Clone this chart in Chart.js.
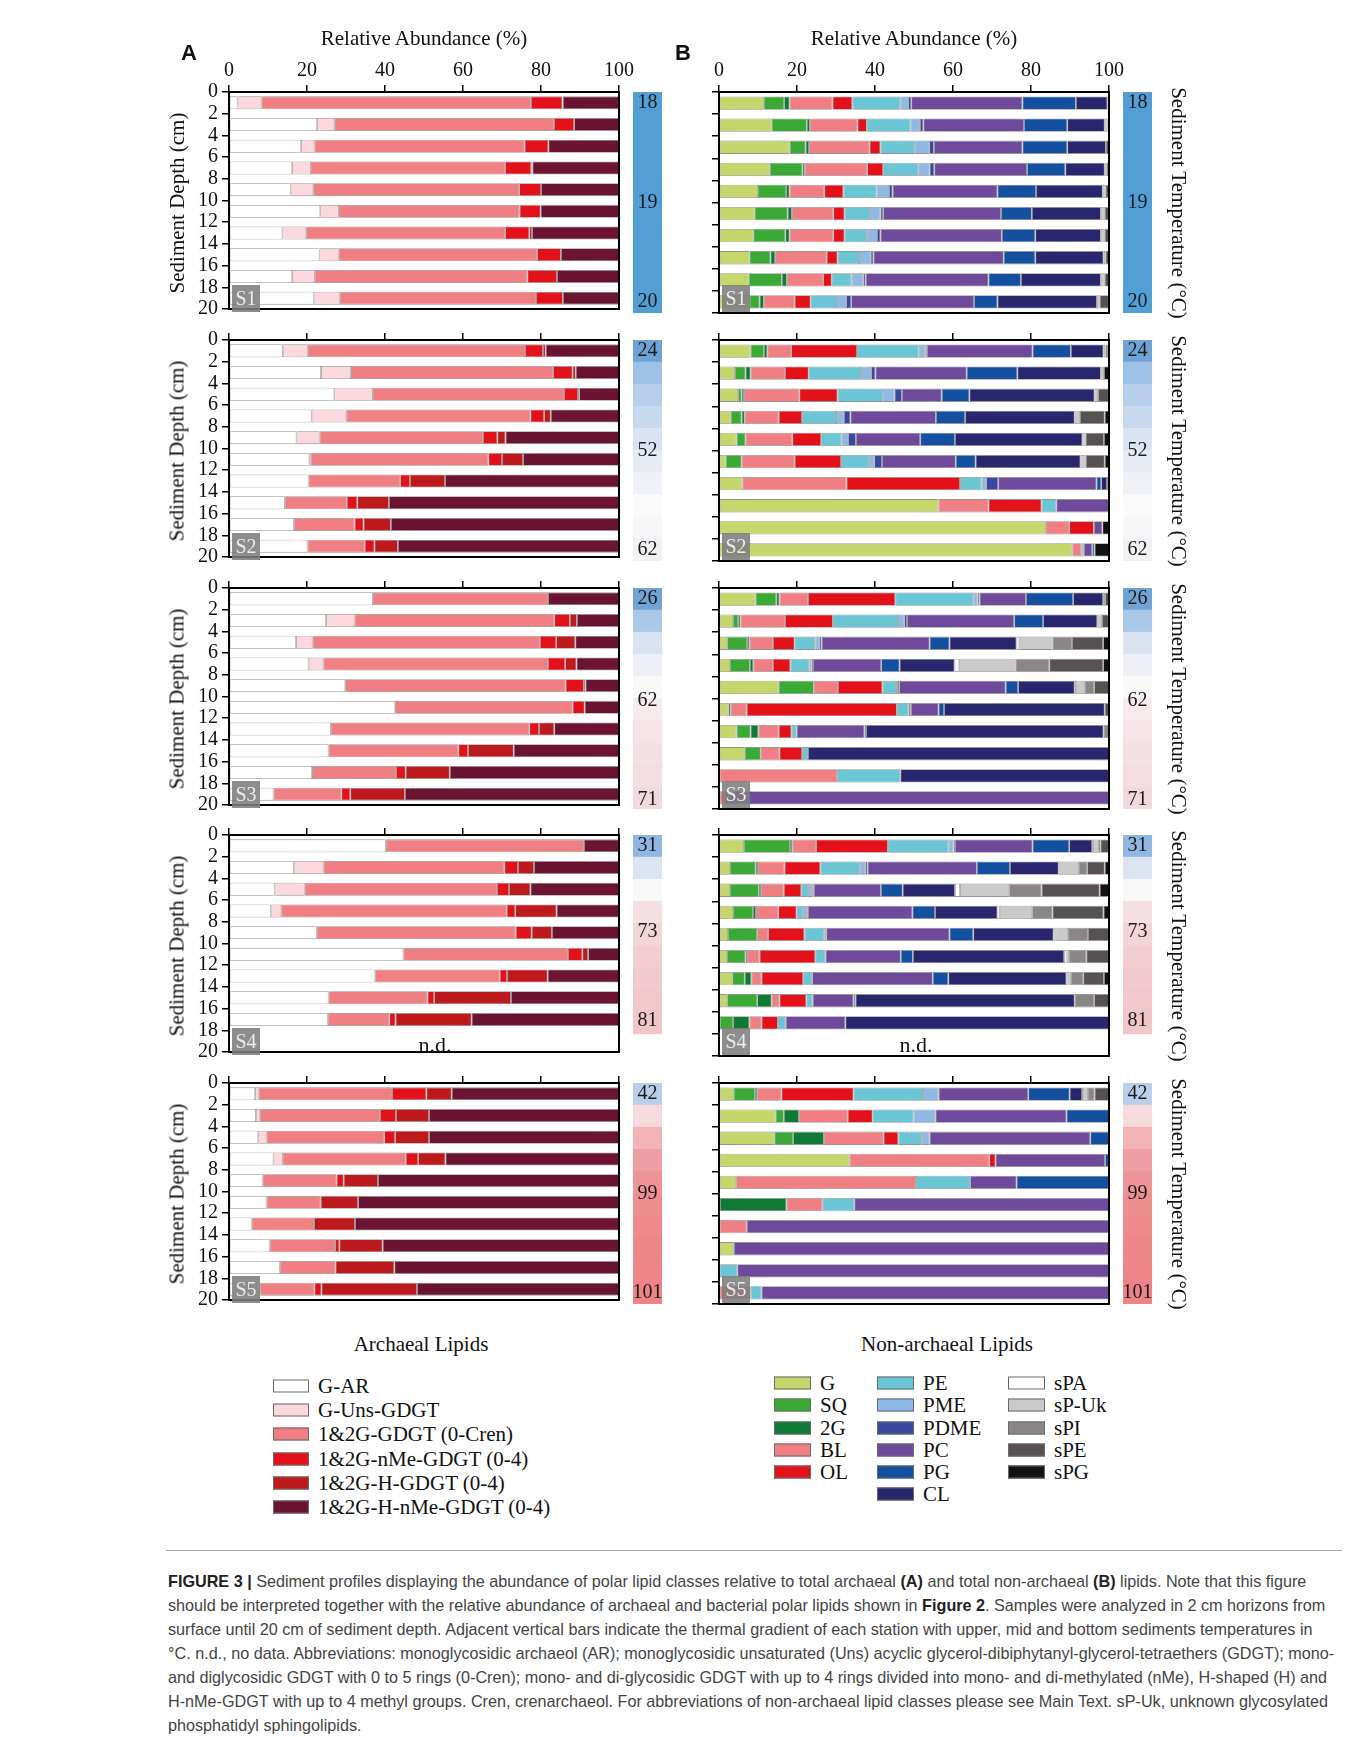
<!DOCTYPE html>
<html>
<head>
<meta charset="utf-8">
<script src="https://cdn.jsdelivr.net/npm/chart.js@4.4.1/dist/chart.umd.min.js"></script>
<style>
  html, body { margin: 0; padding: 0; background: #fff; }
  #page { position: relative; width: 1360px; height: 1737px; overflow: hidden;
          font-family: "Liberation Serif", "Times New Roman", serif; color: #111; }
  canvas { position: absolute; }
  .t { position: absolute; white-space: nowrap; font-size: 21px; line-height: 1;
       transform: translate(-50%, -50%); }
  .rotl { transform: translate(-50%, -50%) rotate(-90deg); }
  .rotr { transform: translate(-50%, -50%) rotate(90deg); }
  .letter { font-family: "Liberation Sans", Arial, sans-serif; font-weight: bold; font-size: 22px; }
  .station { position: absolute; width: 28px; height: 27px; background: rgba(125,125,125,0.88);
             color: #ececec; font-size: 20px; line-height: 27px; text-align: center; z-index: 5; }
  .leg { position: absolute; white-space: nowrap; font-size: 21px; line-height: 1; transform: translateY(-50%); }
  .box { position: absolute; height: 13px; border: 1px solid #6a6a6a; box-sizing: border-box; transform: translateY(-50%); }
  #rule { position: absolute; left: 166px; top: 1550px; width: 1176px; height: 1px; background: #a8a8a8; }
  #caption { position: absolute; left: 168px; top: 1569px; white-space: nowrap;
             font-family: "Liberation Sans", Arial, sans-serif; font-size: 16.2px; line-height: 24px; color: #444; }
  #caption b { color: #222; }
</style>
</head>
<body>
<div id="page"></div>
<script>
// categories
const archaealCats = ['G-AR', 'G-Uns-GDGT', '1&2G-GDGT (0-Cren)', '1&2G-nMe-GDGT (0-4)', '1&2G-H-GDGT (0-4)', '1&2G-H-nMe-GDGT (0-4)'];
const nonArchaealCats = ['G', 'SQ', '2G', 'BL', 'OL', 'PE', 'PME', 'PDME', 'PC', 'PG', 'CL', 'sPA', 'sP-Uk', 'sPI', 'sPE', 'sPG'];
const stations = ['S1', 'S2', 'S3', 'S4', 'S5'];

// bar centres (cm), one per 2 cm horizon
const depthMid = [1, 3, 5, 7, 9, 11, 13, 15, 17, 19];
const depthEdges = [0, 2, 4, 6, 8, 10, 12, 14, 16, 18, 20];
const xTicks = [0, 20, 40, 60, 80, 100];

// archaeal lipids (%), rows = horizons, cols = archaealCats
const archS1 = [
  [2.2, 6.1, 69.1, 8.1, 0.1, 14.4],
  [22.6, 4.4, 56.3, 5.2, 0, 11.5],
  [18.5, 3.4, 53.9, 6.1, 0, 18.1],
  [16.2, 4.8, 49.8, 6.7, 0.3, 22.2],
  [15.8, 5.8, 52.8, 5.6, 0, 20],
  [23.4, 4.8, 46.3, 5.4, 0, 20.1],
  [13.7, 6.1, 51, 6.2, 0.7, 22.3],
  [23.2, 4.9, 50.9, 6.1, 0, 14.9],
  [16.2, 5.8, 54.5, 7.6, 0, 15.9],
  [21.7, 6.8, 50.2, 6.9, 0, 14.4]
];
const archS2 = [
  [13.8, 6.4, 55.7, 4.6, 0.7, 18.8],
  [23.6, 7.7, 51.8, 5, 0.8, 11.1],
  [27, 9.9, 49, 3.6, 0.3, 10.2],
  [21.2, 9, 47.1, 3.5, 1.7, 17.5],
  [17.3, 5.9, 41.9, 3.7, 2.1, 29.1],
  [20.6, 0.3, 45.6, 3.5, 5.4, 24.6],
  [20.4, 0, 23.5, 2.5, 9, 44.6],
  [14.3, 0, 15.9, 2.7, 8.1, 59],
  [16.6, 0, 15.6, 2.3, 7, 58.5],
  [20.1, 0, 14.7, 2.5, 6, 56.7]
];
const archS3 = [
  [36.9, 0, 44.9, 0, 0, 18.2],
  [24.9, 7.3, 51.2, 4, 1.8, 10.8],
  [17.2, 4.2, 58.3, 4.2, 4.9, 11.2],
  [20.4, 3.8, 57.6, 4.4, 2.9, 10.9],
  [29.8, 0, 56.5, 4.7, 0.4, 8.6],
  [42.6, 0, 45.5, 3.1, 0, 8.8],
  [26.1, 0, 50.9, 2.5, 3.9, 16.6],
  [25.5, 0, 33.3, 2.5, 11.7, 27],
  [21.3, 0, 21.5, 2.5, 11.3, 43.4],
  [11.4, 0, 17.4, 2.3, 14, 54.9]
];
const archS4 = [
  [40.2, 0, 50.8, 0, 0, 9],
  [16.6, 7.6, 46.4, 3.5, 4.1, 21.8],
  [11.7, 7.7, 49.3, 3.1, 5.5, 22.7],
  [10.7, 2.7, 57.8, 2.2, 10.6, 16],
  [22.5, 0, 51, 4.1, 5.2, 17.2],
  [44.7, 0, 42.2, 3.7, 1.5, 7.9],
  [37.5, 0, 31.9, 1.9, 10.4, 18.3],
  [25.5, 0, 25.4, 1.7, 19.7, 27.7],
  [25.3, 0, 15.8, 1.6, 19.5, 37.8]
];
const archS5 = [
  [6.7, 0.9, 34.2, 8.8, 6.5, 42.9],
  [6.9, 1.1, 30.7, 4.1, 8.5, 48.7],
  [7.5, 2.1, 30.2, 2.8, 8.7, 48.7],
  [11.4, 2.4, 31.5, 3.2, 7, 44.5],
  [8.6, 0, 19, 1.8, 8.8, 61.8],
  [9.6, 0, 13.9, 0, 9.6, 66.9],
  [5.8, 0, 16, 0, 10.5, 67.7],
  [10.4, 0, 16.8, 1.1, 11.1, 60.6],
  [13, 0, 14.3, 0, 15.1, 57.6],
  [8, 0, 13.9, 1.8, 24.5, 51.8]
];

// non-archaeal lipids (%), cols = nonArchaealCats
const nonArchS1 = [
  [11.5, 5.2, 1.4, 11, 5.1, 12.3, 2, 0.8, 28.5, 13.7, 8.1, 0, 0.4, 0, 0, 0],
  [13.5, 9, 0.8, 12.2, 2.4, 11.2, 2.4, 0.9, 25.8, 11.1, 9.6, 0, 0.7, 0, 0.4, 0],
  [18.1, 4.1, 0.9, 15.5, 2.8, 8.8, 3.7, 1.2, 22.7, 11.5, 9.9, 0, 0, 0, 0.8, 0],
  [13, 8.4, 0.6, 16, 4.1, 9, 2.9, 1.2, 23.8, 9.8, 10.1, 0, 0.5, 0, 0.6, 0],
  [10, 7.2, 0.9, 8.9, 4.9, 8.5, 3.2, 0.9, 26.9, 9.9, 17.1, 0, 0.7, 0, 0.9, 0],
  [9.1, 8.5, 1.1, 10.6, 2.9, 6.5, 2.7, 0.7, 30.2, 7.9, 17.7, 0, 1, 0, 1.1, 0],
  [8.8, 8.2, 1.1, 11.2, 2.9, 5.7, 2.6, 0.9, 31.1, 8.6, 16.8, 0, 1, 0, 1.1, 0],
  [7.8, 5.4, 1.2, 13.2, 2.8, 5.5, 3, 0.7, 33.4, 8.1, 17.5, 0, 0.5, 0, 0.9, 0],
  [7.6, 8.5, 1.3, 9.3, 2.2, 5.1, 3, 0.6, 31.5, 8.3, 20.5, 0, 1, 0, 1.1, 0],
  [7.8, 2.6, 1.1, 7.9, 4.1, 6.5, 2.6, 1.3, 31.5, 6, 25.5, 0, 0.7, 0, 2.4, 0]
];
const nonArchS2 = [
  [8.1, 3.4, 0.9, 6.1, 16.9, 15.8, 1.7, 0.4, 27.1, 9.8, 8.4, 0, 0.5, 0.4, 0.5, 0],
  [4.1, 2.7, 1.3, 8.8, 6.1, 13.4, 2.6, 1.1, 23.4, 13, 21.4, 0, 0.8, 0, 0, 1.3],
  [4.9, 0.9, 0.6, 14.2, 9.8, 11.6, 3, 1.9, 10.2, 7.1, 32.1, 0, 0.9, 0, 2.8, 0],
  [3, 2.8, 0.8, 8.7, 6, 8.7, 2, 1.7, 21.9, 7.5, 28.1, 0, 1.3, 0, 6.4, 1.1],
  [4.5, 2.3, 0, 12, 7.4, 5.2, 1.7, 2, 16.5, 8.9, 32.7, 0, 0.8, 0, 4.7, 1.3],
  [1.7, 4.1, 0, 13.6, 11.9, 7.2, 1.3, 2, 18.9, 5.1, 26.9, 0, 1.3, 0, 4.9, 1.1],
  [6, 0, 0, 26.7, 29.1, 5.5, 1.2, 3.1, 25.2, 1.2, 1.5, 0, 0, 0, 0, 0.5],
  [56.3, 0, 0, 12.8, 13.6, 3.8, 0, 0, 13.5, 0, 0, 0, 0, 0, 0, 0],
  [83.8, 0, 0, 6, 6.3, 0, 0, 0, 2.2, 0, 0, 0, 0, 0, 0, 1.7],
  [90.6, 0, 0, 2.3, 0, 0.6, 0, 0, 2.2, 0.6, 0, 0, 0, 0, 0, 3.7]
];
const nonArchS3 = [
  [9.4, 5.3, 0.8, 7.3, 22.4, 20, 1.1, 0.5, 11.9, 12.1, 7.7, 0, 0, 0.5, 1, 0],
  [3.6, 1.3, 0.6, 11.4, 12.3, 16.7, 1.6, 0.7, 27.5, 7.4, 13.9, 0, 1.2, 0, 1.8, 0],
  [2.1, 5.1, 0.6, 6, 5.6, 5.3, 1, 0.6, 27.7, 5.1, 17.2, 0.7, 8.5, 5, 8, 1.5],
  [2.8, 5.1, 0.9, 5, 4.5, 4.9, 0.5, 0.4, 17.5, 4.7, 14.1, 1.2, 14.4, 8.7, 13.8, 1.5],
  [15.3, 9, 0, 6.2, 11.4, 3.5, 0.5, 0.3, 27.3, 3.2, 14.5, 0.3, 2.3, 2.4, 3.8, 0],
  [2.4, 0, 0.6, 4.1, 38.5, 3, 0.4, 0.2, 7.1, 1.4, 41.2, 0, 0, 0, 1.1, 0],
  [4.5, 3.6, 2, 5.2, 3.3, 1.3, 0, 0, 17.4, 0.4, 60.9, 0, 0, 1.4, 0, 0],
  [6.6, 4.1, 0, 4.8, 5.8, 1.5, 0, 0, 0, 0, 77.2, 0, 0, 0, 0, 0],
  [0, 0, 0, 30.3, 0, 16.2, 0, 0, 0, 0, 53.5, 0, 0, 0, 0, 0],
  [0, 0, 0, 1.5, 1, 0, 0, 0, 97.5, 0, 0, 0, 0, 0, 0, 0]
];
const nonArchS4 = [
  [6.4, 11.8, 0.6, 6.1, 18.4, 15.5, 1.3, 0.4, 19.9, 9.4, 5.9, 0.2, 1.5, 0.4, 2.2, 0],
  [2.8, 6.6, 0.6, 6.8, 9.2, 10.1, 1.4, 0.6, 28, 8.5, 12.5, 0, 5.2, 2.1, 4.5, 1.1],
  [2.8, 7.4, 0.6, 5.8, 4.5, 1.7, 1.1, 0.4, 17.2, 5.6, 13.4, 1.3, 12.6, 8.3, 14.9, 2.4],
  [3.6, 5.1, 0.8, 5.7, 4.7, 1.6, 1.1, 0.2, 26.8, 5.8, 16, 0.6, 8.3, 5.2, 13.1, 1.4],
  [2.3, 7.5, 0, 2.8, 9.3, 5.1, 0.5, 0, 31.6, 6.1, 20.6, 0.5, 3.2, 5.1, 5.4, 0],
  [2, 4.8, 0.4, 3.2, 14.3, 2.6, 0, 0, 19.3, 3.1, 38.8, 0.6, 0.6, 4.5, 5.8, 0],
  [3.4, 3.2, 1.7, 2.6, 10.7, 2.3, 0, 0, 30.9, 4, 30.3, 0, 1.1, 3.2, 5.3, 1.3],
  [2.1, 7.7, 3.7, 2, 6.9, 1.6, 0, 0, 10.5, 0.5, 56.2, 0, 0, 5, 3.8, 0],
  [0, 3.6, 4.2, 3.1, 4.2, 2, 0, 0, 15.3, 0, 67.6, 0, 0, 0, 0, 0]
];
const nonArchS5 = [
  [3.8, 5.4, 0.6, 6.2, 18.5, 17.8, 4, 0, 23, 10.6, 3.2, 0.3, 1.2, 1.7, 3.7, 0],
  [14.5, 2.1, 3.9, 12.5, 6.4, 10.5, 5.6, 0, 33.6, 10.9, 0, 0, 0, 0, 0, 0],
  [14.2, 4.8, 7.9, 15.3, 3.8, 6, 2, 0, 41.2, 4.8, 0, 0, 0, 0, 0, 0],
  [33.5, 0, 0, 35.8, 1.6, 0, 0, 0, 28.1, 1, 0, 0, 0, 0, 0, 0],
  [4.4, 0, 0, 46.1, 0, 13.9, 0, 0, 11.9, 23.7, 0, 0, 0, 0, 0, 0],
  [0, 0, 17.3, 9.2, 0, 8.2, 0, 0, 65.3, 0, 0, 0, 0, 0, 0, 0],
  [0, 0, 0, 7.1, 0, 0, 0, 0, 92.9, 0, 0, 0, 0, 0, 0, 0],
  [3.8, 0, 0, 0, 0, 0, 0, 0, 96.2, 0, 0, 0, 0, 0, 0, 0],
  [0, 0, 0, 0, 0, 4.7, 0, 0, 95.3, 0, 0, 0, 0, 0, 0, 0],
  [0, 0, 0, 8.1, 0, 2.8, 0, 0, 89.1, 0, 0, 0, 0, 0, 0, 0]
];

// sediment temperatures (°C) shown on the thermal bars, and where (cm)
const tempTop = ['18', '24', '26', '31', '42'];
const tempMid = ['19', '52', '62', '73', '99'];
const tempBottom = ['20', '62', '71', '81', '101'];
const tempLabelDepth = [[1, 10, 19], [1, 10, 19], [1, 10.2, 19.2], [1, 8.8, 16.8], [1, 10, 19]];

// colours
const archColors = ['#ffffff', '#fad8dd', '#ef7f83', '#e3111a', '#bd1a1d', '#6a1431'];
const nonArchColors = ['#c5d66b', '#3aa935', '#0e7a36', '#ef7f83', '#e3111a', '#6ac5d5', '#8fb8e3', '#3b479e',
  '#6e4a9a', '#144fa0', '#2a266d', '#ffffff', '#ccc9c9', '#8a8686', '#565252', '#121212'];
const tempColors = [
  ['#539ed5', '#539ed5', '#539ed5', '#539ed5', '#539ed5', '#539ed5', '#539ed5', '#539ed5', '#539ed5', '#539ed5'],
  ['#6ea3d5', '#9ec1e7', '#b7cfec', '#c8d9ef', '#dae3f1', '#e6ebf4', '#eff1f6', '#fafafb', '#f6f6f8', '#f1f1f4'],
  ['#70a4d4', '#a9c8ea', '#dbe3f0', '#eef0f6', '#f9f9f9', '#f6eaec', '#f4e4e7', '#f3e1e4', '#f2dee1', '#f1dadd'],
  ['#8fb7e1', '#dbe4f0', '#f8f8f8', '#f4e1e4', '#f3d4d8', '#f2ced3', '#f1c9ce', '#f1c7cc', '#f1c6cb'],
  ['#b9d0ea', '#f6dade', '#f2b4b7', '#ef9fa3', '#ee9396', '#ee8e91', '#ee8a8d', '#ee878a', '#ee8588', '#ee8386']
];

const archData = [archS1, archS2, archS3, archS4, archS5];
const nonArchData = [nonArchS1, nonArchS2, nonArchS3, nonArchS4, nonArchS5];

// ---- layout ----
const page = document.getElementById('page');
const panelTop = [92, 340, 588, 835, 1083];
const PLOT_H = 221, PLOT_W = 390;
const A_LEFT = 229, B_LEFT = 719;
const TA_LEFT = 633, TB_LEFT = 1123, T_W = 29;
const Y_W = 65, X_H = 45, PAD_R = 22, PAD_B = 12;

Chart.defaults.font.family = '"Liberation Serif", "Times New Roman", serif';
Chart.defaults.color = '#111';

function addCanvas(left, top, w, h) {
  const c = document.createElement('canvas');
  c.width = w; c.height = h;
  c.style.left = left + 'px'; c.style.top = top + 'px';
  c.style.width = w + 'px'; c.style.height = h + 'px';
  page.appendChild(c);
  return c;
}
function addText(txt, cls, x, y, extra) {
  const d = document.createElement('div');
  d.className = cls;
  d.textContent = txt;
  d.style.left = x + 'px'; d.style.top = y + 'px';
  if (extra) Object.assign(d.style, extra);
  page.appendChild(d);
  return d;
}

const frame = {
  id: 'frame',
  afterDraw(chart) {
    const { ctx, chartArea: a } = chart;
    ctx.save();
    ctx.strokeStyle = '#000';
    ctx.lineWidth = 2;
    ctx.strokeRect(a.left, a.top, a.right - a.left, a.bottom - a.top);
    ctx.restore();
  }
};

function panelChart(left, top, cats, colors, rows, showX, showY) {
  const cv = addCanvas(left - Y_W, top - X_H, Y_W + PLOT_W + PAD_R, X_H + PLOT_H + PAD_B);
  const datasets = cats.map((name, k) => ({
    label: name,
    data: rows.map((r, i) => ({ x: r[k], y: depthMid[i] })),
    backgroundColor: colors[k],
    borderColor: 'rgba(60,60,60,0.55)',
    borderWidth: 0.8,
    borderSkipped: false,
    categoryPercentage: 1,
    barPercentage: 0.6
  }));
  const axisGrid = { display: true, drawOnChartArea: false, drawTicks: true, tickLength: 7,
    color: '#000', lineWidth: 1.5, offset: false };
  return new Chart(cv, {
    type: 'bar',
    data: { datasets },
    options: {
      indexAxis: 'y',
      responsive: false,
      maintainAspectRatio: false,
      animation: false,
      devicePixelRatio: 1,
      layout: { autoPadding: false, padding: { left: 0, top: 0, right: PAD_R, bottom: PAD_B } },
      plugins: { legend: { display: false }, tooltip: { enabled: false } },
      scales: {
        x: {
          type: 'linear', position: 'top', min: 0, max: 100, stacked: true,
          afterBuildTicks: s => { s.ticks = xTicks.map(v => ({ value: v })); },
          ticks: { display: showX, autoSkip: false, maxRotation: 0, font: { size: 20 }, color: '#111', padding: 2 },
          grid: axisGrid,
          border: { display: true, color: '#000', width: 2 },
          afterFit: s => { s.height = X_H; }
        },
        y: {
          type: 'linear', min: 0, max: 20, reverse: true, stacked: true, offset: false,
          afterBuildTicks: s => { s.ticks = depthEdges.map(v => ({ value: v })); },
          ticks: { display: showY, autoSkip: false, font: { size: 20 }, color: '#111', padding: 4 },
          grid: axisGrid,
          border: { display: true, color: '#000', width: 2 },
          afterFit: s => { s.width = Y_W; }
        }
      }
    },
    plugins: [frame]
  });
}

const tempText = {
  id: 'tempText',
  afterDatasetsDraw(chart, args, opts) {
    const { ctx, chartArea: a } = chart;
    const ys = chart.scales.y;
    ctx.save();
    ctx.fillStyle = '#1a1a1a';
    ctx.font = '20px "Liberation Serif", serif';
    ctx.textAlign = 'center';
    ctx.textBaseline = 'middle';
    opts.labels.forEach((t, j) => ctx.fillText(t, (a.left + a.right) / 2, ys.getPixelForValue(opts.depths[j])));
    ctx.restore();
  }
};

function tempChart(left, top, si) {
  const cv = addCanvas(left, top, T_W, PLOT_H);
  const cols = tempColors[si];
  return new Chart(cv, {
    type: 'bar',
    data: {
      labels: ['T'],
      datasets: [{
        data: cols.map((c, i) => ({ x: 'T', y: [depthEdges[i], depthEdges[i + 1]] })),
        backgroundColor: cols,
        borderWidth: 0,
        barThickness: T_W
      }]
    },
    options: {
      responsive: false, maintainAspectRatio: false, animation: false, devicePixelRatio: 1,
      layout: { autoPadding: false, padding: 0 },
      plugins: {
        legend: { display: false }, tooltip: { enabled: false },
        tempText: { labels: [tempTop[si], tempMid[si], tempBottom[si]], depths: tempLabelDepth[si] }
      },
      scales: {
        x: { display: false },
        y: { display: false, min: 0, max: 20, reverse: true }
      }
    },
    plugins: [tempText]
  });
}

stations.forEach((st, i) => {
  const top = panelTop[i];
  panelChart(A_LEFT, top, archaealCats, archColors, archData[i], i === 0, true);
  panelChart(B_LEFT, top, nonArchaealCats, nonArchColors, nonArchData[i], i === 0, false);
  tempChart(TA_LEFT, top, i);
  tempChart(TB_LEFT, top, i);

  const mid = top + PLOT_H / 2;
  addText('Sediment Depth (cm)', 't rotl', 177, mid);
  addText('Sediment Temperature (°C)', 't rotr', 1178, mid);

  [A_LEFT, B_LEFT].forEach(l => {
    const s = document.createElement('div');
    s.className = 'station';
    s.textContent = st;
    s.style.left = (l + 3) + 'px';
    s.style.top = (top + PLOT_H - 28) + 'px';
    page.appendChild(s);
  });
  if (archData[i].length < depthMid.length) {
    addText('n.d.', 't', A_LEFT + 206, top + PLOT_H * 19 / 20, { fontSize: '22px' });
    addText('n.d.', 't', B_LEFT + 197, top + PLOT_H * 19 / 20, { fontSize: '22px' });
  }
});

addText('Relative Abundance (%)', 't', A_LEFT + PLOT_W / 2, 38);
addText('Relative Abundance (%)', 't', B_LEFT + PLOT_W / 2, 38);
addText('A', 't letter', 189, 53);
addText('B', 't letter', 683, 53);

// legends
addText('Archaeal Lipids', 't', 421, 1344);
addText('Non-archaeal Lipids', 't', 947, 1344);

function legendItem(x, y, w, color, name) {
  const b = document.createElement('div');
  b.className = 'box';
  b.style.left = x + 'px'; b.style.top = y + 'px';
  b.style.width = w + 'px'; b.style.background = color;
  page.appendChild(b);
  const t = document.createElement('div');
  t.className = 'leg';
  t.textContent = name;
  t.style.left = (x + w + 9) + 'px'; t.style.top = y + 'px';
  page.appendChild(t);
}
const legARows = [1386, 1410, 1434, 1459, 1483, 1507];
archaealCats.forEach((c, k) => legendItem(273, legARows[k], 36, archColors[k], c));

const legBRows = [1383, 1405, 1428, 1450, 1472, 1494];
const legBCols = [774, 877, 1008];
const legBLayout = [[0, 1, 2, 3, 4], [5, 6, 7, 8, 9, 10], [11, 12, 13, 14, 15]];
legBLayout.forEach((col, ci) => col.forEach((k, r) => legendItem(legBCols[ci], legBRows[r], 37, nonArchColors[k], nonArchaealCats[k])));

// caption
const rule = document.createElement('div');
rule.id = 'rule';
page.appendChild(rule);
const cap = document.createElement('div');
cap.id = 'caption';
cap.innerHTML =
  '<b>FIGURE 3 |</b> Sediment profiles displaying the abundance of polar lipid classes relative to total archaeal <b>(A)</b> and total non-archaeal <b>(B)</b> lipids. Note that this figure<br>' +
  'should be interpreted together with the relative abundance of archaeal and bacterial polar lipids shown in <b>Figure 2</b>. Samples were analyzed in 2 cm horizons from<br>' +
  'surface until 20 cm of sediment depth. Adjacent vertical bars indicate the thermal gradient of each station with upper, mid and bottom sediments temperatures in<br>' +
  '°C. n.d., no data. Abbreviations: monoglycosidic archaeol (AR); monoglycosidic unsaturated (Uns) acyclic glycerol-dibiphytanyl-glycerol-tetraethers (GDGT); mono-<br>' +
  'and diglycosidic GDGT with 0 to 5 rings (0-Cren); mono- and di-glycosidic GDGT with up to 4 rings divided into mono- and di-methylated (nMe), H-shaped (H) and<br>' +
  'H-nMe-GDGT with up to 4 methyl groups. Cren, crenarchaeol. For abbreviations of non-archaeal lipid classes please see Main Text. sP-Uk, unknown glycosylated<br>' +
  'phosphatidyl sphingolipids.';
page.appendChild(cap);
</script>
</body>
</html>
